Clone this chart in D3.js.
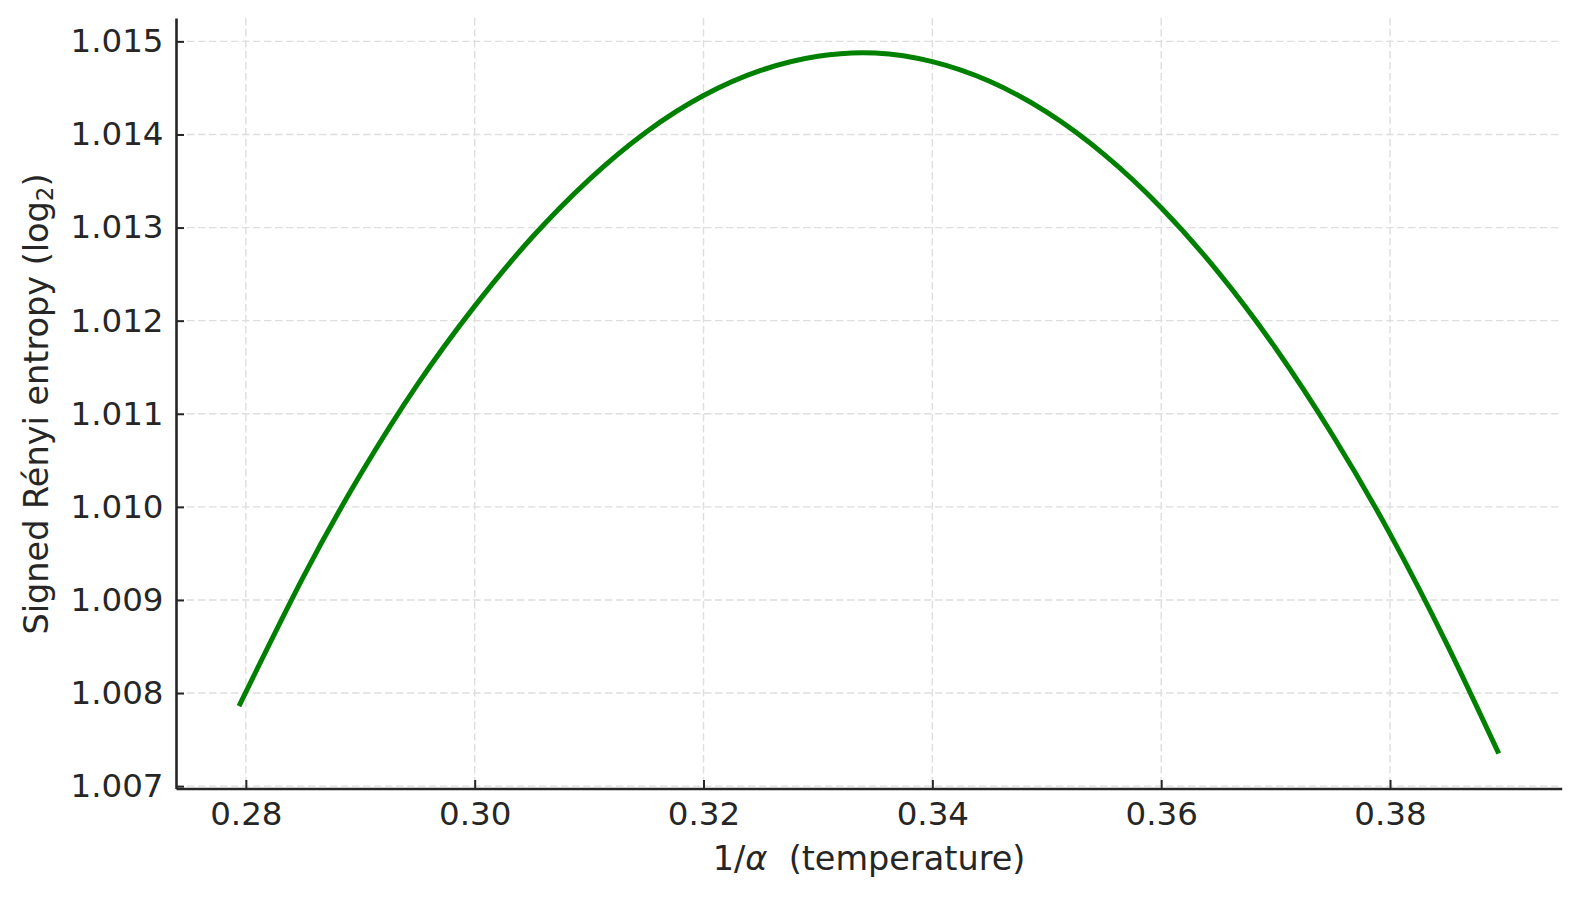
<!DOCTYPE html>
<html>
<head>
<meta charset="utf-8">
<script src="https://cdn.jsdelivr.net/npm/d3@7"></script>
<style>
  html, body { margin: 0; padding: 0; background: #ffffff; }
  svg { display: block; font-family: "DejaVu Sans", sans-serif; }
</style>
</head>
<body>
<svg id="chart" width="1579" height="899"></svg>
<script>
// ---- data ----
const invAlpha = [0.2794, 0.2850, 0.2900, 0.2950, 0.3000, 0.3050, 0.3100, 0.3150, 0.3200, 0.3250,
                  0.3300, 0.3350, 0.3400, 0.3450, 0.3500, 0.3550, 0.3600, 0.3650, 0.3700, 0.3750,
                  0.3800, 0.3850, 0.3895];
const entropy  = [1.007860, 1.009243, 1.010344, 1.011315, 1.012156, 1.012893, 1.013516, 1.014027, 1.014418, 1.014688,
                  1.014840, 1.014875, 1.014782, 1.014571, 1.014240, 1.013787, 1.013214, 1.012519, 1.011704, 1.010767,
                  1.009710, 1.008518, 1.007351];
const xTicks = [0.28, 0.30, 0.32, 0.34, 0.36, 0.38];
const yTicks = [1.007, 1.008, 1.009, 1.010, 1.011, 1.012, 1.013, 1.014, 1.015];
const xLabel = "(temperature)";
const yLabel = "Signed Rényi entropy (log";

// ---- layout ----
const plot = { left: 176, right: 1561.7, top: 18, bottom: 788.5 };
const svg = d3.select("#chart");

function padded(ext, frac) {
  const r = ext[1] - ext[0];
  return [ext[0] - r * frac, ext[1] + r * frac];
}
const x = d3.scaleLinear().domain(padded(d3.extent(invAlpha), 0.05)).range([plot.left, plot.right]);
const y = d3.scaleLinear().domain(padded(d3.extent(entropy), 0.05)).range([plot.bottom, plot.top]);

const textColor = "#262626";
const gridColor = "#dedede";

// grid
const grid = svg.append("g");
grid.selectAll("line.gx").data(xTicks).join("line")
  .attr("x1", d => x(d)).attr("x2", d => x(d))
  .attr("y1", plot.top).attr("y2", plot.bottom)
  .attr("stroke", gridColor).attr("stroke-width", 1.4).attr("stroke-dasharray", "7.5,3.5");
grid.selectAll("line.gy").data(yTicks).join("line")
  .attr("x1", plot.left).attr("x2", plot.right)
  .attr("y1", d => y(d)).attr("y2", d => y(d))
  .attr("stroke", gridColor).attr("stroke-width", 1.4).attr("stroke-dasharray", "7.5,3.5");

// line
const pts = invAlpha.map((v, i) => [v, entropy[i]]);
svg.append("path")
  .datum(pts)
  .attr("fill", "none")
  .attr("stroke", "#008000")
  .attr("stroke-width", 5)
  .attr("stroke-linecap", "butt")
  .attr("d", d3.line().x(d => x(d[0])).y(d => y(d[1])).curve(d3.curveNatural));

// axes
const xAxis = d3.axisBottom(x).tickValues(xTicks).tickFormat(d3.format(".2f"))
  .tickSizeInner(-8.5).tickSizeOuter(0).tickPadding(13);
const yAxis = d3.axisLeft(y).tickValues(yTicks).tickFormat(d3.format(".3f"))
  .tickSizeInner(-8).tickSizeOuter(0).tickPadding(12.5);

const gx = svg.append("g").attr("transform", `translate(0,${plot.bottom})`).call(xAxis);
const gy = svg.append("g").attr("transform", `translate(${plot.left},0)`).call(yAxis);

[gx, gy].forEach(g => {
  g.select(".domain").attr("stroke", textColor).attr("stroke-width", 2.6);
  g.selectAll(".tick line").attr("stroke", textColor).attr("stroke-width", 2);
  g.selectAll(".tick text").attr("fill", textColor)
    .style("font-family", "'DejaVu Sans', sans-serif").style("font-size", "32.5px");
});

// x label
const xl = svg.append("text")
  .attr("x", 869).attr("y", 870)
  .attr("text-anchor", "middle")
  .attr("fill", textColor)
  .style("font-size", "33.5px")
  .style("white-space", "pre");
xl.append("tspan").text("1/");
xl.append("tspan").style("font-style", "italic").text("α");
xl.append("tspan").text("  " + xLabel);

// y label
const yl = svg.append("text")
  .attr("transform", "translate(48,404) rotate(-90)")
  .attr("text-anchor", "middle")
  .attr("fill", textColor)
  .style("font-size", "33.5px");
yl.append("tspan").text(yLabel);
yl.append("tspan").style("font-size", "23px").attr("dy", "5").text("2");
yl.append("tspan").attr("dy", "-5").text(")");
</script>
</body>
</html>
